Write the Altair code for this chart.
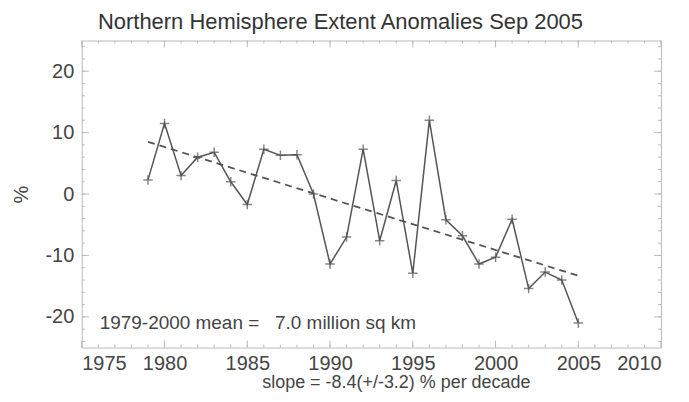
import altair as alt
import pandas as pd

years = list(range(1979, 2006))
anomaly = [2.3, 11.5, 3.0, 6.0, 6.8, 2.0, -1.7, 7.3, 6.3, 6.4, 0.0, -11.4, -7.0, 7.3,
           -7.6, 2.2, -12.9, 12.0, -4.2, -6.8, -11.4, -10.3, -4.1, -15.4, -12.7, -14.0, -21.0]
trend_years = [1979, 2005]
trend_vals = [8.5, -13.3]
x_major = [1975, 1980, 1985, 1990, 1995, 2000, 2005, 2010]
x_minor = list(range(1975, 2011))
y_major = [-20, -10, 0, 10, 20]
y_minor = list(range(-24, 25, 2))

GRAY = "#555555"
TICK = "#bbbbbb"
FONT = "Liberation Sans"
W, H = 581, 308

df = pd.DataFrame({"year": years, "anom": anomaly})
tdf = pd.DataFrame({"year": trend_years, "anom": trend_vals})

xs = alt.Scale(domain=[1975, 2010], nice=False)
ys = alt.Scale(domain=[-25, 25], nice=False)

xax = alt.Axis(values=x_major, labelExpr="'' + datum.value", labelFontSize=20,
               title="slope =  -8.4(+/-3.2) % per decade", grid=False, ticks=False,
               domain=False, labelPadding=6, titlePadding=0, titleX=315,
               titleFontSize=18)
yax = alt.Axis(values=y_major, labelExpr="'' + datum.value", labelFontSize=20,
               title="%", grid=False, ticks=False, domain=False,
               labelPadding=8, titlePadding=14, titleFontSize=20)


def xticks(vals, length):
    d = pd.DataFrame({"v": vals})
    bottom = alt.Chart(d).mark_rule(color=TICK).encode(
        x=alt.X("v:Q", scale=xs), y=alt.value(H), y2=alt.value(H - length))
    top = alt.Chart(d).mark_rule(color=TICK).encode(
        x=alt.X("v:Q", scale=xs), y=alt.value(0), y2=alt.value(length))
    return [bottom, top]


def yticks(vals, length):
    d = pd.DataFrame({"v": vals})
    left = alt.Chart(d).mark_rule(color=TICK).encode(
        y=alt.Y("v:Q", scale=ys), x=alt.value(0), x2=alt.value(length))
    right = alt.Chart(d).mark_rule(color=TICK).encode(
        y=alt.Y("v:Q", scale=ys), x=alt.value(W), x2=alt.value(W - length))
    return [left, right]


line = alt.Chart(df).mark_line(color=GRAY, strokeWidth=1.5).encode(
    x=alt.X("year:Q", scale=xs, axis=xax),
    y=alt.Y("anom:Q", scale=ys, axis=yax),
)
pts = alt.Chart(df).mark_point(
    shape="M-1,0L1,0M0,-1L0,1", size=90, color=GRAY, strokeWidth=1.5
).encode(x=alt.X("year:Q", scale=xs), y=alt.Y("anom:Q", scale=ys))
trend = alt.Chart(tdf).mark_line(color=GRAY, strokeDash=[7, 5], strokeWidth=1.8).encode(
    x=alt.X("year:Q", scale=xs), y=alt.Y("anom:Q", scale=ys)
)
note = alt.Chart(pd.DataFrame({"t": ["1979-2000 mean =\u00a0\u00a0\u00a07.0 million sq km"]})).mark_text(
    align="left", fontSize=19, font=FONT, color="#444444"
).encode(x=alt.value(18), y=alt.value(283), text="t:N")

layers = (xticks(x_minor, 3) + xticks(x_major, 7) + yticks(y_minor, 3) + yticks(y_major, 7)
          + [trend, line, pts, note])

chart = (
    alt.layer(*layers)
    .properties(
        width=W, height=H,
        title=alt.TitleParams("Northern Hemisphere Extent Anomalies Sep 2005",
                              fontSize=22, font=FONT, fontWeight="normal",
                              color="#333333", offset=6, dx=-31),
        padding={"left": 74, "top": 32, "right": 20, "bottom": 54},
        autosize=alt.AutoSizeParams(type="none"),
    )
    .configure_view(stroke=TICK, strokeWidth=1)
    .configure_axis(labelFont=FONT, titleFont=FONT,
                    labelColor="#444444", titleColor="#444444", titleFontWeight="normal")
)
chart.save("out.html", embed_options={"renderer": "svg", "actions": False})
